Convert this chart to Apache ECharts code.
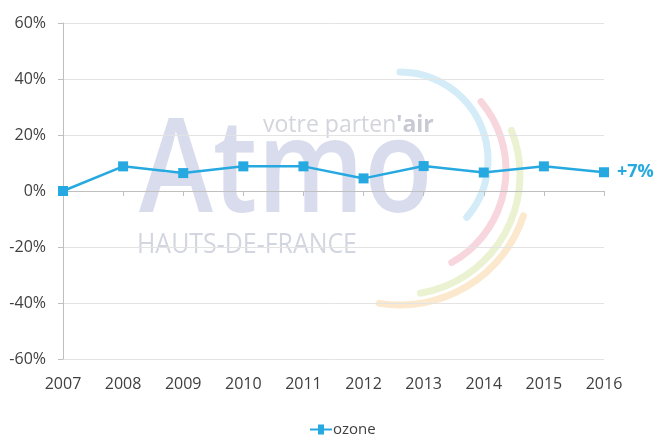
<!DOCTYPE html>
<html>
<head>
<meta charset="utf-8">
<script src="https://cdn.jsdelivr.net/npm/echarts@6/dist/echarts.min.js"></script>
<style>
  html, body { margin: 0; padding: 0; background: #fff; }
  #chart { width: 656px; height: 437px; }
</style>
</head>
<body>
<div id="chart"></div>
<script>
// data
var years = ['2007', '2008', '2009', '2010', '2011', '2012', '2013', '2014', '2015', '2016'];
var ozone = [0, 8.8, 6.4, 8.8, 8.8, 4.5, 8.9, 6.6, 8.8, 6.7];
var yMin = -60, yMax = 60, yStep = 20;

var blue = '#25a9e0';
var font = '"Open Sans", sans-serif';

var myChart = echarts.init(document.getElementById('chart'));

// faded logo behind the chart
function arc(cx, cy, r, a0, a1, color) {
	return {
		type: 'arc', z: -1, silent: true,
		shape: { cx: cx, cy: cy, r: r, startAngle: a0, endAngle: a1, clockwise: true },
		style: { stroke: color, lineWidth: 7, lineCap: 'round', fill: null }
	};
}

var option = {
	backgroundColor: '#fff',
	textStyle: { fontFamily: font },
	grid: { left: 63, right: 52, top: 23, bottom: 78 },
	legend: {
		data: ['ozone'],
		left: 310, top: 422, padding: 0,
		itemWidth: 22, itemHeight: 14, itemGap: 0,
		icon: 'path://M0,6 L8,6 L8,2 L14,2 L14,6 L22,6 L22,8 L14,8 L14,12 L8,12 L8,8 L0,8 Z',
		textStyle: { fontSize: 15, color: '#404040', fontFamily: font, padding: [0, 0, 0, -4] }
	},
	xAxis: {
		type: 'category',
		data: years,
		boundaryGap: false,
		axisLine: { lineStyle: { color: '#bfbfbf', width: 1 } },
		axisTick: { show: true, length: 5, interval: 0, lineStyle: { color: '#bfbfbf' } },
		axisLabel: { fontSize: 16, color: '#404040', margin: 17, interval: 0 }
	},
	yAxis: {
		type: 'value',
		min: yMin, max: yMax, interval: yStep,
		axisLine: { show: true, lineStyle: { color: '#bfbfbf', width: 1 } },
		axisTick: { show: true, length: 5, lineStyle: { color: '#bfbfbf' } },
		axisLabel: { fontSize: 16, color: '#404040', margin: 17, formatter: '{value}%' },
		splitLine: { lineStyle: { color: '#e3e3e3', width: 1 } }
	},
	series: [
		{
			name: 'ozone',
			type: 'line',
			data: ozone,
			symbol: 'rect',
			symbolSize: 10,
			lineStyle: { color: blue, width: 2.5 },
			itemStyle: { color: blue },
			endLabel: {
				show: true,
				distance: 13,
				color: blue,
				fontSize: 18,
				fontWeight: 'bold',
				fontFamily: font,
				formatter: function (p) { return '+' + Math.round(p.value) + '%'; }
			}
		}
	],
	graphic: [
		arc(400, 160, 88, -1.57, 0.71, '#d3ecf7'),
		arc(400, 170, 106, -0.70, 1.06, '#f7d6dd'),
		arc(400, 175, 120, -0.38, 1.40, '#ebf2d2'),
		arc(400, 175, 130, 0.32, 1.73, '#fbe8cd'),
		{
			type: 'text', z: -1, silent: true, x: 139, y: 175, scaleX: 0.8, scaleY: 0.93,
			style: { text: 'Atmo', font: '600 140px ' + font, fill: '#d9dcec', verticalAlign: 'middle' }
		},
		{
			type: 'text', z: -1, silent: true, x: 137, y: 245, scaleX: 0.89,
			style: { text: 'HAUTS-DE-FRANCE', font: '28px ' + font, fill: '#d3d6e1', verticalAlign: 'middle' }
		},
		{
			type: 'text', z: -1, silent: true, x: 263, y: 125,
			style: {
				text: '{a|votre parten}{b|\'air}',
				verticalAlign: 'middle',
				rich: {
					a: { fontSize: 23, fontFamily: font, fill: '#d4d5dc' },
					b: { fontSize: 23, fontFamily: font, fontWeight: 'bold', fill: '#c7c9d3' }
				}
			}
		}
	]
};

myChart.setOption(option);
</script>
</body>
</html>
